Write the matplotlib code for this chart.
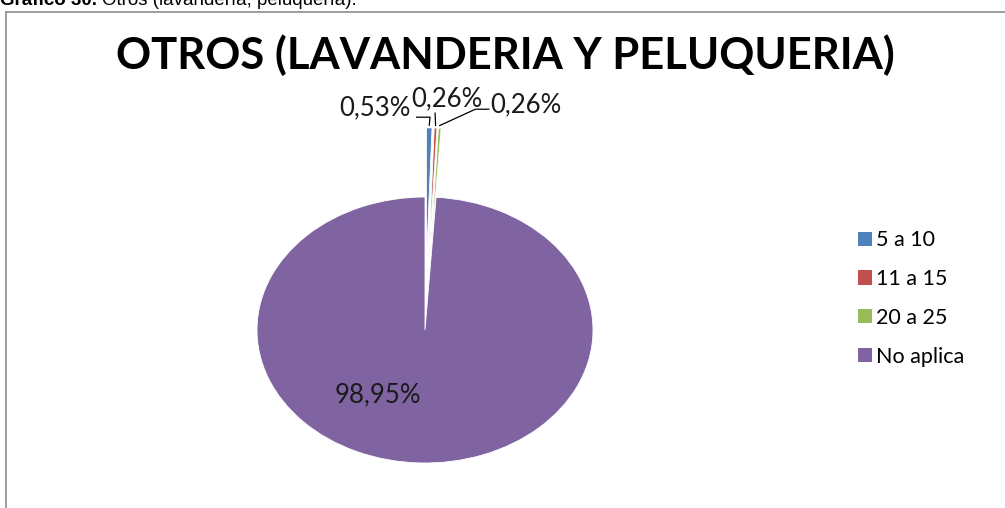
import matplotlib
matplotlib.use("Agg")
import matplotlib.pyplot as plt
from matplotlib.lines import Line2D
import numpy as np

categories = ["5 a 10", "11 a 15", "20 a 25", "No aplica"]
values = [0.53, 0.26, 0.26, 98.95]
labels = ["0,53%", "0,26%", "0,26%", "98,95%"]
colors = ["#4F81BD", "#C0504D", "#9BBB59", "#8064A2"]
title = "OTROS (LAVANDERIA Y PELUQUERIA)"
caption_bold = "Gráfico 30."
caption_rest = "Otros (lavandería, peluquería)."

W, H = 1005, 508
fig = plt.figure(figsize=(W / 100, H / 100), dpi=100)
fig.patch.set_facecolor("white")

# pixel helpers (top-left origin)
def fx(px): return px / W
def fy(py): return 1 - py / H

# caption, partly cut off at the top (as in the reference)
t1 = fig.text(fx(0), fy(5), caption_bold, fontsize=13.5, fontweight="bold",
              family="Liberation Sans", ha="left", va="baseline")
fig.canvas.draw()
bb = t1.get_window_extent(renderer=fig.canvas.get_renderer())
fig.text(fx(bb.x1 + 5), fy(5), caption_rest, fontsize=13.5,
         family="Liberation Sans", ha="left", va="baseline")

# chart frame
fig.add_artist(Line2D([fx(6), fx(W)], [fy(11.5), fy(11.5)], color="#8c8c8c", lw=1.2))
fig.add_artist(Line2D([fx(6), fx(6)], [fy(11.5), fy(H)], color="#8c8c8c", lw=1.2))

# pie axes: centre (425,330), half axes 168 x 133 px, limits +-2
cx, cy, rx, ry, L = 425, 330, 168, 133, 2.0
ax = fig.add_axes([fx(cx - rx * L), fy(cy + ry * L), 2 * rx * L / W, 2 * ry * L / H])
wedges, _ = ax.pie(values, colors=colors, startangle=90, counterclock=False,
                   explode=[0.52, 0.52, 0.52, 0.0],
                   wedgeprops=dict(edgecolor="white", linewidth=0.6))
ax.set_aspect("auto")
ax.set_xlim(-L, L)
ax.set_ylim(-L, L)
ax.axis("off")
for w in wedges:
    w.set_clip_on(False)

lab_font = dict(family="Lato", fontsize=18.5, color="#1a1a1a")
# data labels for the small slices with leader lines
lab_pos = [(-0.30, 1.67), (0.13, 1.74), (0.60, 1.69)]
line_pts = [[(-0.05, 1.60), (0.03, 1.60)],
            [(0.06, 1.63)],
            [(0.38, 1.66), (0.30, 1.66)]]
for i in range(3):
    w = wedges[i]
    mid = np.deg2rad((w.theta1 + w.theta2) / 2)
    tip = (w.center[0] + np.cos(mid), w.center[1] + np.sin(mid))
    pts = line_pts[i] + [(tip[0], tip[1] + 0.02)]
    xs, ys = zip(*pts)
    ax.plot(xs, ys, color="#000000", lw=0.9, clip_on=False)
    ax.text(lab_pos[i][0], lab_pos[i][1], labels[i], ha="center", va="center", **lab_font)

ax.text(-0.28, -0.49, labels[3], ha="center", va="center", **lab_font)

fig.text(fx(505), fy(55), title, ha="center", va="center", family="Lato",
         fontweight="bold", fontsize=31.3, color="#000000")

handles = [plt.Rectangle((0, 0), 1, 1, facecolor=c, edgecolor="none") for c in colors]
leg = fig.legend(handles, categories, loc="upper left", bbox_to_anchor=(fx(839), fy(211)),
                 frameon=False, handlelength=0.65, handleheight=0.65, handletextpad=0.15,
                 labelspacing=0.87, prop=dict(family="Lato", size=15.5))
for t in leg.get_texts():
    t.set_color("#000000")

fig.savefig("out.png", dpi=100, facecolor="white")
